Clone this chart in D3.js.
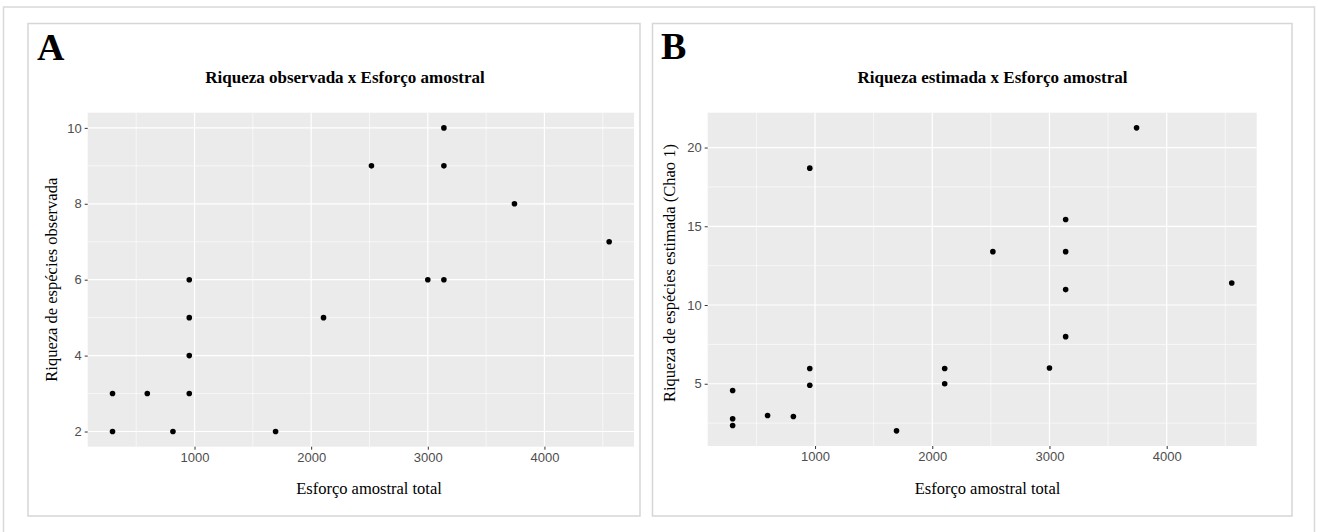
<!DOCTYPE html>
<html>
<head>
<meta charset="utf-8">
<script src="https://cdn.jsdelivr.net/npm/d3@7"></script>
<style>
  html, body { margin: 0; padding: 0; background: #fff; }
  svg { display: block; }
</style>
</head>
<body>
<svg id="chart" width="1318" height="532"></svg>
<script>
// ---- Data ----
const effortA   = [297, 297, 595, 815, 955, 955, 955, 955, 1695, 2106, 2517, 3138, 3138, 3743, 4555, 3000, 3138];
const richnessA = [3, 2, 3, 2, 6, 5, 4, 3, 2, 5, 9, 10, 9, 8, 7, 6, 6];

const effortB   = [297, 297, 297, 595, 815, 955, 955, 955, 1695, 2106, 2106, 3743, 3138, 2517, 3138, 3138, 4555, 3138, 3000];
const richnessB = [4.57, 2.78, 2.35, 2.98, 2.92, 18.69, 5.97, 4.91, 2.01, 5.97, 5.0, 21.25, 15.43, 13.39, 13.39, 10.98, 11.4, 7.99, 6.0];

const xTicks  = [1000, 2000, 3000, 4000];
const xMinor  = [500, 1500, 2500, 3500, 4500];
const yTicksA = [2, 4, 6, 8, 10];
const yMinorA = [3, 5, 7, 9];
const yTicksB = [5, 10, 15, 20];
const yMinorB = [2.5, 7.5, 12.5, 17.5];

const titleA = "Riqueza observada x Esforço amostral";
const titleB = "Riqueza estimada x Esforço amostral";
const xLabel = "Esforço amostral total";
const yLabelA = "Riqueza de espécies observada";
const yLabelB = "Riqueza de espécies estimada (Chao 1)";

// ---- Drawing ----
const svg = d3.select("#chart");
const serif = "'Liberation Serif', 'Times New Roman', serif";
const sans = "'Liberation Sans', Arial, sans-serif";

// outer frame
svg.append("rect").attr("x", 3.5).attr("y", 7).attr("width", 1311).attr("height", 540)
  .attr("fill", "none").attr("stroke", "#d9d9d9").attr("stroke-width", 1.5);

function expand(ext) {
  const d = (ext[1] - ext[0]) * 0.05;
  return [ext[0] - d, ext[1] + d];
}

const allEffort = effortA.concat(effortB);

function panel(cfg) {
  const g = svg.append("g");
  // panel frame
  g.append("rect").attr("x", cfg.frame[0]).attr("y", cfg.frame[1])
    .attr("width", cfg.frame[2] - cfg.frame[0]).attr("height", cfg.frame[3] - cfg.frame[1])
    .attr("fill", "#fff").attr("stroke", "#d6d6d6").attr("stroke-width", 1.5);

  const x = d3.scaleLinear().domain(expand(d3.extent(allEffort))).range([cfg.plot[0], cfg.plot[2]]);
  const y = d3.scaleLinear().domain(expand(d3.extent(cfg.ys))).range([cfg.plot[3], cfg.plot[1]]);

  // background
  g.append("rect").attr("x", cfg.plot[0]).attr("y", cfg.plot[1])
    .attr("width", cfg.plot[2] - cfg.plot[0]).attr("height", cfg.plot[3] - cfg.plot[1])
    .attr("fill", "#ebebeb");

  // minor grid
  g.selectAll(null).data(xMinor.filter(v => v >= x.domain()[0] && v <= x.domain()[1])).enter().append("line")
    .attr("x1", d => x(d)).attr("x2", d => x(d)).attr("y1", cfg.plot[1]).attr("y2", cfg.plot[3])
    .attr("stroke", "#fff").attr("stroke-width", 0.6);
  g.selectAll(null).data(cfg.yMinor.filter(v => v >= y.domain()[0] && v <= y.domain()[1])).enter().append("line")
    .attr("y1", d => y(d)).attr("y2", d => y(d)).attr("x1", cfg.plot[0]).attr("x2", cfg.plot[2])
    .attr("stroke", "#fff").attr("stroke-width", 0.6);
  // major grid
  g.selectAll(null).data(xTicks).enter().append("line")
    .attr("x1", d => x(d)).attr("x2", d => x(d)).attr("y1", cfg.plot[1]).attr("y2", cfg.plot[3])
    .attr("stroke", "#fff").attr("stroke-width", 1.2);
  g.selectAll(null).data(cfg.yTicks).enter().append("line")
    .attr("y1", d => y(d)).attr("y2", d => y(d)).attr("x1", cfg.plot[0]).attr("x2", cfg.plot[2])
    .attr("stroke", "#fff").attr("stroke-width", 1.2);

  // axes
  const xAxis = g.append("g").attr("transform", `translate(0,${cfg.plot[3]})`)
    .call(d3.axisBottom(x).tickValues(xTicks).tickSize(3).tickPadding(3).tickFormat(d3.format("d")));
  const yAxis = g.append("g").attr("transform", `translate(${cfg.plot[0]},0)`)
    .call(d3.axisLeft(y).tickValues(cfg.yTicks).tickSize(3).tickPadding(3).tickFormat(d3.format("d")));
  [xAxis, yAxis].forEach(a => {
    a.select(".domain").remove();
    a.selectAll(".tick line").attr("stroke", "#333").attr("stroke-width", 1);
    a.selectAll(".tick text").attr("fill", "#4d4d4d").style("font-family", sans).style("font-size", "13px");
  });

  // points
  g.selectAll(null).data(cfg.xs.map((v, i) => [v, cfg.ys[i]])).enter().append("circle")
    .attr("cx", d => x(d[0])).attr("cy", d => y(d[1])).attr("r", 2.8).attr("fill", "#000");

  // labels
  g.append("text").attr("x", cfg.letter[0]).attr("y", cfg.letter[1]).text(cfg.letterText)
    .style("font-family", serif).style("font-weight", "bold").style("font-size", "38px").attr("fill", "#000");
  g.append("text").attr("x", cfg.title[0]).attr("y", cfg.title[1]).attr("text-anchor", "middle").text(cfg.titleText)
    .style("font-family", serif).style("font-weight", "bold").style("font-size", "17px").attr("fill", "#000");
  g.append("text").attr("x", cfg.xlab[0]).attr("y", cfg.xlab[1]).attr("text-anchor", "middle").text(xLabel)
    .style("font-family", serif).style("font-size", "16.5px").attr("fill", "#000");
  g.append("text").attr("transform", `translate(${cfg.ylab[0]},${cfg.ylab[1]}) rotate(-90)`)
    .attr("text-anchor", "middle").text(cfg.ylabText)
    .style("font-family", serif).style("font-size", "16.5px").attr("fill", "#000");
}

panel({
  frame: [28, 23.5, 640, 516],
  plot: [87.7, 112.7, 634, 446.7],
  xs: effortA, ys: richnessA,
  yTicks: yTicksA, yMinor: yMinorA,
  letter: [37, 59.5], letterText: "A",
  title: [345, 83], titleText: titleA,
  xlab: [369, 493.5],
  ylab: [56.5, 279.7], ylabText: yLabelA
});

panel({
  frame: [652.5, 23.5, 1292, 516],
  plot: [707.7, 112.7, 1256.7, 446],
  xs: effortB, ys: richnessB,
  yTicks: yTicksB, yMinor: yMinorB,
  letter: [661, 58.5], letterText: "B",
  title: [992.5, 83], titleText: titleB,
  xlab: [987.5, 493.5],
  ylab: [674.5, 273], ylabText: yLabelB
});
</script>
</body>
</html>
